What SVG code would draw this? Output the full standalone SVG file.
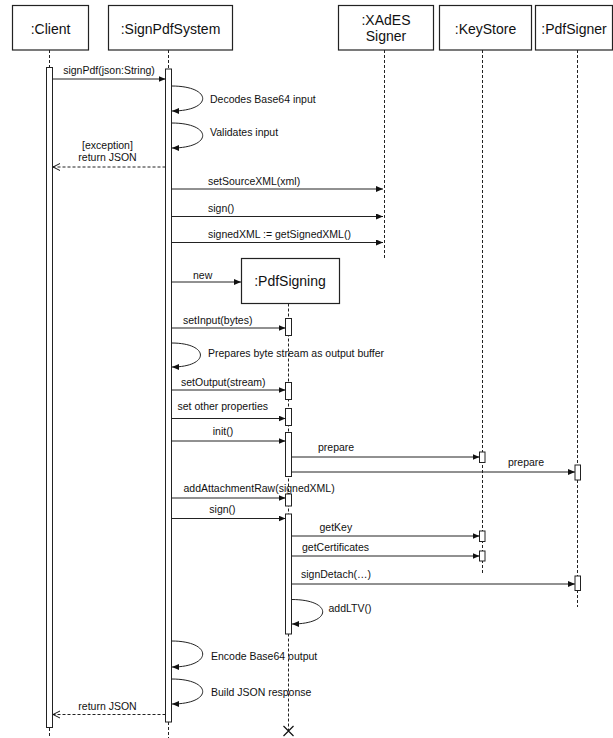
<svg xmlns="http://www.w3.org/2000/svg" width="613" height="738" viewBox="0 0 613 738">
<defs>
<marker id="fa" markerWidth="7" markerHeight="6" refX="7" refY="3" orient="auto" markerUnits="userSpaceOnUse"><path d="M0,0 L7,3 L0,6 Z" fill="#111"/></marker>
<marker id="oa" markerWidth="9" markerHeight="9" refX="8" refY="4.5" orient="auto" markerUnits="userSpaceOnUse"><path d="M1,1 L8,4.5 L1,8" fill="none" stroke="#111" stroke-width="1"/></marker>
<style>
.box{fill:#fff;stroke:#222;stroke-width:1.2}
.bar{fill:#fff;stroke:#222;stroke-width:1}
.life{stroke:#222;stroke-width:1;stroke-dasharray:3,2;fill:none}
.msg{stroke:#222;stroke-width:1;fill:none;marker-end:url(#fa)}
.ret{stroke:#222;stroke-width:1;fill:none;stroke-dasharray:3,2;marker-end:url(#oa)}
.self{stroke:#222;stroke-width:1;fill:none;marker-end:url(#fa)}
.h{font-family:"Liberation Sans",Arial,sans-serif;font-size:14px;fill:#111;text-anchor:middle}
.t{font-family:"Liberation Sans",Arial,sans-serif;font-size:10.5px;fill:#111}
.m{text-anchor:middle}
</style>
</defs>
<rect width="613" height="738" fill="#fff"/>

<g id="client">
<rect class="box" x="12.5" y="5.5" width="76" height="44.5"/>
<text class="h" x="50.5" y="34">:Client</text>
<line class="life" x1="49.5" y1="50" x2="49.5" y2="67"/>
<line class="life" x1="49.5" y1="728" x2="49.5" y2="738"/>
<rect class="bar" x="46.5" y="67.5" width="6" height="660"/>
</g>

<g id="signpdfsystem">
<rect class="box" x="108.5" y="5.5" width="124" height="44.5"/>
<text class="h" x="170.5" y="34">:SignPdfSystem</text>
<line class="life" x1="168.5" y1="50" x2="168.5" y2="69"/>
<line class="life" x1="168.5" y1="722" x2="168.5" y2="738"/>
<rect class="bar" x="165.5" y="69" width="6" height="653"/>
</g>

<g id="xades">
<rect class="box" x="338.5" y="5.5" width="95" height="44.5"/>
<text class="h" x="386" y="25">:XAdES</text>
<text class="h" x="386" y="41">Signer</text>
<line class="life" x1="384.5" y1="50" x2="384.5" y2="259"/>
</g>

<g id="keystore">
<rect class="box" x="439.5" y="5.5" width="92" height="44.5"/>
<text class="h" x="485.5" y="34">:KeyStore</text>
<line class="life" x1="482.5" y1="50" x2="482.5" y2="573"/>
<rect class="bar" x="479.5" y="452" width="5.5" height="10.5"/>
<rect class="bar" x="479.5" y="531" width="5.5" height="10.5"/>
<rect class="bar" x="479.5" y="551" width="5.5" height="10"/>
</g>

<g id="pdfsigner">
<rect class="box" x="535.5" y="5.5" width="77" height="44.5"/>
<text class="h" x="574" y="34">:PdfSigner</text>
<line class="life" x1="577.5" y1="50" x2="577.5" y2="607"/>
<rect class="bar" x="575" y="465" width="5.5" height="15"/>
<rect class="bar" x="575" y="576" width="5.5" height="14.5"/>
</g>

<g id="pdfsigning">
<rect class="box" x="241.5" y="258.5" width="98" height="45"/>
<text class="h" x="290" y="286">:PdfSigning</text>
<line class="life" x1="288.5" y1="303.5" x2="288.5" y2="731"/>
<rect class="bar" x="285.5" y="318.5" width="6" height="17"/>
<rect class="bar" x="285.5" y="382.5" width="6" height="17"/>
<rect class="bar" x="285.5" y="408.5" width="6" height="17"/>
<rect class="bar" x="285.5" y="432.5" width="6" height="44"/>
<rect class="bar" x="285.5" y="494" width="6" height="12"/>
<rect class="bar" x="285.5" y="514" width="6" height="120"/>
<path d="M283.5,726 L293.5,736 M293.5,726 L283.5,736" stroke="#111" stroke-width="1.2"/>
</g>

<g id="connectors">
<line class="msg" x1="52.5" y1="79" x2="165.5" y2="79"/>
<path class="self" d="M171.5,86 C213,86 213,111 172,111"/>
<path class="self" d="M171.5,123 C213,123 213,148 172,148"/>
<line class="ret" x1="165.5" y1="167" x2="53" y2="167"/>
<line class="msg" x1="171.5" y1="189" x2="383" y2="189"/>
<line class="msg" x1="171.5" y1="216.5" x2="383" y2="216.5"/>
<line class="msg" x1="171.5" y1="242.5" x2="383" y2="242.5"/>
<line class="msg" x1="171.5" y1="282" x2="241" y2="282"/>
<line class="msg" x1="171.5" y1="328" x2="285.5" y2="328"/>
<path class="self" d="M171.5,343 C210,343 210,367 172,367"/>
<line class="msg" x1="171.5" y1="390" x2="285.5" y2="390"/>
<line class="msg" x1="171.5" y1="418.5" x2="285.5" y2="418.5"/>
<line class="msg" x1="171.5" y1="441" x2="285.5" y2="441"/>
<line class="msg" x1="291.5" y1="457" x2="479.5" y2="457"/>
<line class="msg" x1="291.5" y1="472" x2="575" y2="472"/>
<line class="msg" x1="171.5" y1="498" x2="285.5" y2="498"/>
<line class="msg" x1="171.5" y1="518.5" x2="285.5" y2="518.5"/>
<line class="msg" x1="291.5" y1="536" x2="479.5" y2="536"/>
<line class="msg" x1="291.5" y1="556" x2="479.5" y2="556"/>
<line class="msg" x1="291.5" y1="584" x2="575" y2="584"/>
<path class="self" d="M291.5,599.5 C333,599.5 333,624 292,624"/>
<path class="self" d="M171.5,641 C213,641 213,667 172,667"/>
<path class="self" d="M171.5,679 C213,679 213,704 172,704"/>
<line class="ret" x1="165.5" y1="714.5" x2="53" y2="714.5"/>
</g>

<g id="labels">
<text class="t m" x="109" y="74">signPdf(json:String)</text>
<text class="t" x="210" y="103">Decodes Base64 input</text>
<text class="t" x="210" y="136">Validates input</text>
<text class="t m" x="107.5" y="149">[exception]</text>
<text class="t m" x="107.5" y="161">return JSON</text>
<text class="t" x="208" y="185">setSourceXML(xml)</text>
<text class="t" x="208" y="212">sign()</text>
<text class="t" x="208" y="238">signedXML := getSignedXML()</text>
<text class="t" x="193" y="279">new</text>
<text class="t" x="183" y="324">setInput(bytes)</text>
<text class="t" x="208" y="357">Prepares byte stream as output buffer</text>
<text class="t" x="181" y="386">setOutput(stream)</text>
<text class="t" x="177.5" y="410">set other properties</text>
<text class="t m" x="223" y="435">init()</text>
<text class="t" x="318" y="451">prepare</text>
<text class="t" x="508" y="466">prepare</text>
<text class="t" x="183.5" y="492">addAttachmentRaw(signedXML)</text>
<text class="t m" x="222.5" y="513">sign()</text>
<text class="t" x="319.5" y="531">getKey</text>
<text class="t" x="302" y="551">getCertificates</text>
<text class="t" x="301" y="577.5">signDetach(…)</text>
<text class="t" x="328.5" y="612">addLTV()</text>
<text class="t" x="211" y="660">Encode Base64 output</text>
<text class="t" x="211" y="696">Build JSON response</text>
<text class="t m" x="107.5" y="710">return JSON</text>
</g>
</svg>
